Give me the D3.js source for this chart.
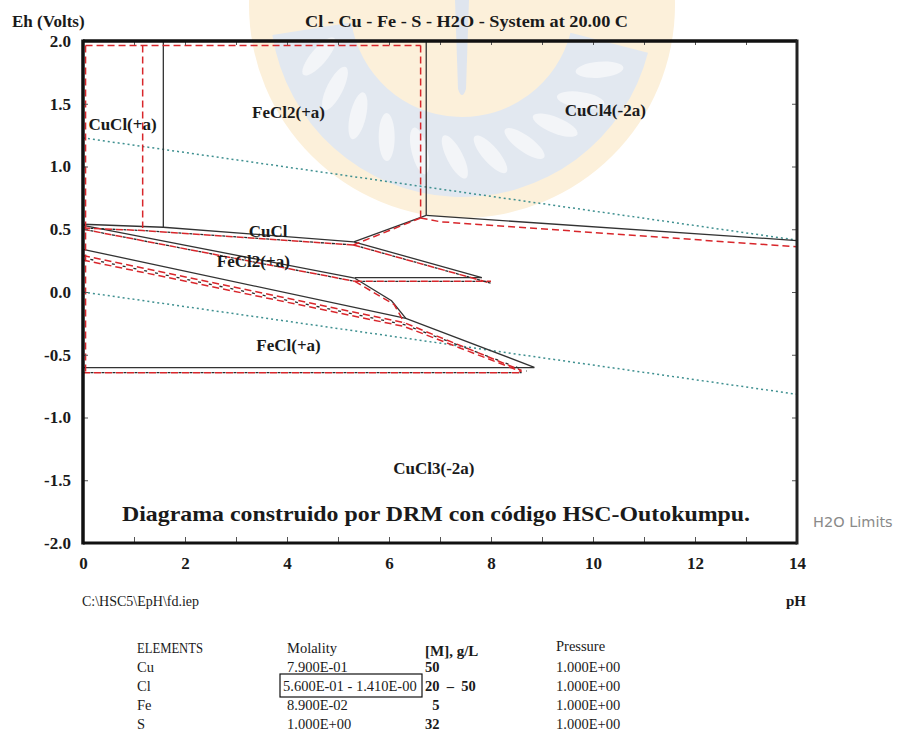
<!DOCTYPE html>
<html>
<head>
<meta charset="utf-8">
<script src="https://cdn.jsdelivr.net/npm/d3@7"></script>
<style>
  body { margin: 0; background: #fff; }
  svg { display: block; }
  text { font-family: "Liberation Serif", "Times New Roman", serif; fill: #1a1a1a; }
</style>
</head>
<body>
<svg id="chart" width="902" height="752"></svg>
<script>
// ---- Axis ticks -------------------------------------------------------
const phTicks = d3.range(0, 15);                 // minor ticks every pH unit
const phLabels = [0, 2, 4, 6, 8, 10, 12, 14];
const ehTicks = [2.0, 1.5, 1.0, 0.5, 0.0, -0.5, -1.0, -1.5, -2.0];

// ---- Stability-field boundaries, [pH, Eh] -----------------------------
// Cl = 5.6E-01 m (solid)
const solidLines = [
  [[1.575, 2.0], [1.575, 0.516]],
  [[6.73, 2.0], [6.73, 0.61]],
  [[6.73, 0.61], [14, 0.41]],
  [[6.73, 0.61], [5.31, 0.40]],
  [[0, 0.54], [1.575, 0.516], [5.31, 0.40]],
  [[5.31, 0.40], [7.82, 0.114]],
  [[5.33, 0.114], [7.82, 0.114]],
  [[0, 0.53], [5.33, 0.11]],
  [[5.33, 0.11], [6.05, -0.07], [6.33, -0.21]],
  [[0, 0.34], [6.33, -0.21], [8.85, -0.60]],
  [[0, -0.603], [8.85, -0.603]]
];
// Cl = 1.41 m (red dashed)
const redLines = [
  [[0.05, 1.965], [6.62, 1.965]],
  [[0.05, 1.965], [0.05, -0.643]],
  [[1.17, 1.965], [1.17, 0.51]],
  [[6.62, 1.965], [6.62, 0.59]],
  [[6.62, 0.59], [7.0, 0.56], [14, 0.36]],
  [[6.62, 0.59], [5.3, 0.375]],
  [[0, 0.51], [1.17, 0.49], [5.3, 0.375]],
  [[5.3, 0.375], [8.0, 0.07]],
  [[5.33, 0.085], [8.0, 0.085]],
  [[0, 0.50], [5.33, 0.085]],
  [[5.33, 0.085], [6.1, -0.10], [6.3, -0.245]],
  [[0, 0.29], [6.3, -0.245], [8.6, -0.625]],
  [[0, 0.255], [6.3, -0.275], [8.6, -0.635]],
  [[0, -0.643], [8.6, -0.643]]
];
// intermediate Cl (black dashed)
const darkDashLines = [
  [[0, 0.51], [1.17, 0.49], [5.3, 0.375]],
  [[0, 0.50], [5.33, 0.085]],
  [[5.3, 0.375], [8.0, 0.07]],
  [[5.33, 0.085], [8.0, 0.085]],
  [[0, 0.272], [6.3, -0.26], [8.7, -0.63]],
  [[0, -0.643], [8.6, -0.643]]
];
// water stability limits
const waterLines = [
  [[0, 1.228], [14, 0.413]],
  [[0, 0.0], [14, -0.815]]
];

// ---- Field labels ------------------------------------------------------
const fieldNames = ["CuCl(+a)", "FeCl2(+a)", "CuCl4(-2a)", "CuCl", "FeCl2(+a)", "FeCl(+a)", "CuCl3(-2a)"];
const fieldPh    = [0.775, 4.03, 10.24, 3.63, 3.34, 4.03, 6.88];
const fieldEh    = [1.29, 1.386, 1.40, 0.436, 0.20, -0.47, -1.45];

// ---- Table under the chart --------------------------------------------
const elementNames = ["Cu", "Cl", "Fe", "S"];
const molality     = ["7.900E-01", "5.600E-01 - 1.410E-00", "8.900E-02", "1.000E+00"];
const gramsPerL    = ["50", "20  –  50", "  5", "32"];
const pressure     = ["1.000E+00", "1.000E+00", "1.000E+00", "1.000E+00"];

const svg = d3.select("#chart");
const x = d3.scaleLinear().domain([0, 14]).range([83, 797]);
const y = d3.scaleLinear().domain([-2, 2]).range([543, 41]);
const line = d3.line().x(d => x(d[0])).y(d => y(d[1]));

// ---- Faint background emblem ---------------------------------------------
const emblem = svg.append("g").attr("transform", "translate(462,5)");
emblem.append("circle").attr("r", 213).attr("fill", "#fcf0da");
emblem.append("path")
  .attr("d", d3.arc()({ innerRadius: 112, outerRadius: 192, startAngle: 0.58 * Math.PI, endAngle: 1.45 * Math.PI }))
  .attr("fill", "#e2e8f0");
d3.range(0.64, 1.42, 0.075).forEach(a => {
  const ang = a * Math.PI;
  const cx = 152 * Math.sin(ang), cy = -152 * Math.cos(ang);
  const deg = ang * 180 / Math.PI + 60;
  emblem.append("ellipse").attr("cx", cx).attr("cy", cy).attr("rx", 24).attr("ry", 8)
    .attr("transform", `rotate(${deg},${cx},${cy})`).attr("fill", "#f3f5f8");
});
emblem.append("path").attr("d", "M-7,-5 L7,-5 L4,84 Q0,96 -4,84 Z").attr("fill", "#dfe5ee");

// ---- Boundaries ------------------------------------------------------------
const plot = svg.append("g");
plot.selectAll(".water").data(waterLines).join("path")
  .attr("d", line).attr("fill", "none").attr("stroke", "#3f9090")
  .attr("stroke-width", 1.5).attr("stroke-dasharray", "2,3");
plot.selectAll(".solid").data(solidLines).join("path")
  .attr("d", line).attr("fill", "none").attr("stroke", "#333").attr("stroke-width", 1.3);
plot.selectAll(".red").data(redLines).join("path")
  .attr("d", line).attr("fill", "none").attr("stroke", "#d8262b")
  .attr("stroke-width", 1.5).attr("stroke-dasharray", "7,4");
plot.selectAll(".dark").data(darkDashLines).join("path")
  .attr("d", line).attr("fill", "none").attr("stroke", "#2a2a2a")
  .attr("stroke-width", 1.3).attr("stroke-dasharray", "3,8").attr("stroke-dashoffset", -7.5);

// ---- Frame and axes ---------------------------------------------------------
const axes = svg.append("g");
const gl = axes.append("g").attr("transform", `translate(${x(0)},0)`)
  .call(d3.axisLeft(y).tickValues(ehTicks).tickSize(-5).tickPadding(12).tickFormat(d => d.toFixed(1)));
const gb = axes.append("g").attr("transform", `translate(0,${y(-2)})`)
  .call(d3.axisBottom(x).tickValues(phTicks).tickSize(-6).tickPadding(14)
    .tickFormat(d => phLabels.includes(d) ? String(d) : ""));
const gt = axes.append("g").attr("transform", `translate(0,${y(2)})`)
  .call(d3.axisTop(x).tickValues(phTicks).tickSize(-4).tickFormat(""));
const gr = axes.append("g").attr("transform", `translate(${x(14)},0)`)
  .call(d3.axisRight(y).tickValues(ehTicks).tickSize(-5).tickFormat(""));
[gl, gb, gt, gr].forEach(g => {
  g.select(".domain").remove();
  g.selectAll(".tick line").attr("stroke", "#555").attr("stroke-width", 1);
  g.selectAll(".tick text").attr("font-family", "Liberation Serif, serif")
    .attr("font-size", 17).attr("font-weight", "bold").attr("fill", "#1a1a1a");
});
axes.append("line").attr("x1", x(0)).attr("x2", x(14)).attr("y1", y(2)).attr("y2", y(2))
  .attr("stroke", "#111").attr("stroke-width", 3.5);
axes.append("line").attr("x1", x(0)).attr("x2", x(14)).attr("y1", y(-2)).attr("y2", y(-2))
  .attr("stroke", "#111").attr("stroke-width", 3);
axes.append("line").attr("x1", x(0)).attr("x2", x(0)).attr("y1", y(2) - 1.5).attr("y2", y(-2) + 1.5)
  .attr("stroke", "#111").attr("stroke-width", 3.5);
axes.append("line").attr("x1", x(14)).attr("x2", x(14)).attr("y1", y(2) - 1.5).attr("y2", y(-2) + 1.5)
  .attr("stroke", "#222").attr("stroke-width", 3);

// ---- Field labels ------------------------------------------------------------
svg.append("g").selectAll("text").data(fieldNames).join("text")
  .attr("x", (d, i) => x(fieldPh[i])).attr("y", (d, i) => y(fieldEh[i]))
  .attr("text-anchor", "middle").attr("font-size", 17).attr("font-weight", "bold")
  .text(d => d);

// ---- Titles and notes ------------------------------------------------------------
svg.append("text").attr("x", 12).attr("y", 26.5).attr("font-size", 17).attr("font-weight", "bold")
  .text("Eh (Volts)");
svg.append("text").attr("x", 305).attr("y", 26.5).attr("font-size", 17).attr("font-weight", "bold")
  .attr("textLength", 323).attr("lengthAdjust", "spacingAndGlyphs")
  .text("Cl - Cu - Fe - S - H2O - System at 20.00 C");
svg.append("text").attr("x", 122).attr("y", 520.5).attr("font-size", 22).attr("font-weight", "bold")
  .attr("textLength", 628).attr("lengthAdjust", "spacingAndGlyphs")
  .text("Diagrama construido por DRM con código HSC-Outokumpu.");
svg.append("text").attr("x", 813).attr("y", 526.5).attr("font-size", 14.5)
  .style("font-family", "'DejaVu Sans', sans-serif").style("fill", "#8a8a8a")
  .text("H2O Limits");
svg.append("text").attr("x", 82).attr("y", 606).attr("font-size", 14)
  .text("C:\\HSC5\\EpH\\fd.iep");
svg.append("text").attr("x", 786).attr("y", 606).attr("font-size", 15).attr("font-weight", "bold")
  .text("pH");

// ---- Composition table ------------------------------------------------------------
const table = svg.append("g").attr("font-size", 14.5).style("white-space", "pre");
table.append("text").attr("x", 137).attr("y", 653).attr("textLength", 66)
  .attr("lengthAdjust", "spacingAndGlyphs").text("ELEMENTS");
table.append("text").attr("x", 287).attr("y", 653).text("Molality");
table.append("text").attr("x", 425).attr("y", 656).attr("font-size", 15).attr("font-weight", "bold").text("[M], g/L");
table.append("text").attr("x", 556).attr("y", 651).text("Pressure");
const rowY = [672, 691, 709.5, 729];
const cols = [[elementNames, 137, "normal"], [molality, 283, "normal"], [gramsPerL, 425, "bold"], [pressure, 556, "normal"]];
cols.forEach(([vals, cx, fw]) => {
  table.append("g").selectAll("text").data(vals).join("text")
    .attr("x", (d, i) => (cx === 283 && i !== 1) ? 287 : cx)
    .attr("y", (d, i) => rowY[i]).attr("font-weight", fw)
    .attr("xml:space", "preserve").text(d => d);
});
table.append("rect").attr("x", 280).attr("y", 674).attr("width", 142).attr("height", 23)
  .attr("fill", "none").attr("stroke", "#111").attr("stroke-width", 1.2);
</script>
</body>
</html>
